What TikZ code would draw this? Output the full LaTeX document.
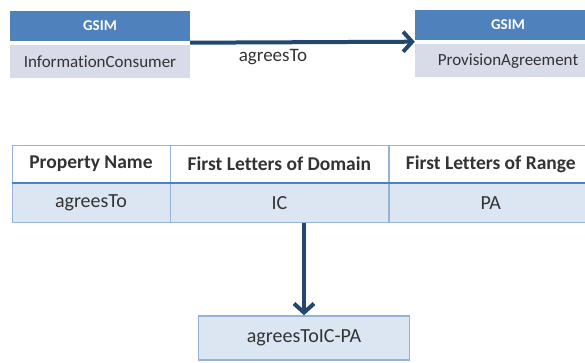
\documentclass[tikz,border=0pt]{standalone}
\usepackage{fontspec}
\setmainfont{Carlito}[Ligatures=NoCommon]
\usetikzlibrary{arrows.meta,positioning}
\definecolor{gsim}{HTML}{4F81BD}
\definecolor{gsimbody}{HTML}{D8DCE9}
\definecolor{navy}{HTML}{24476F}
\definecolor{rowfill}{HTML}{DCE6F2}
\definecolor{grid}{HTML}{95B3D7}
\definecolor{ink}{HTML}{333333}

\begin{document}
\begin{tikzpicture}[x=1pt,y=-1pt,
      head/.style={fill=gsim,text=white,font=\fontsize{15}{17}\selectfont\bfseries,minimum width=180pt,minimum height=30pt,inner sep=0pt},
      body/.style={fill=gsimbody,text=ink,font=\fontsize{17}{19}\selectfont,minimum width=180pt,minimum height=33pt,inner sep=0pt},
      hcell/.style={draw=grid,fill=white,text=ink,font=\fontsize{19.5}{22}\selectfont\bfseries,minimum height=38pt,inner sep=0pt},
      dcell/.style={draw=grid,fill=rowfill,text=ink,font=\fontsize{20}{22}\selectfont,minimum height=39pt,inner sep=0pt},
      res/.style={draw=grid,line width=1.5pt,fill=rowfill,text=ink,font=\fontsize{20}{22}\selectfont,minimum width=211pt,minimum height=44pt,inner sep=0pt},
      arr/.style={-{Straight Barb[length=9pt,width=20pt]},line width=4pt,navy}]
    \clip (0,0) rectangle (585,362);
    \fill[white] (0,0) rectangle (585,362);
    % GSIM classes
    \node[head] (lhead) at (100,26) {GSIM};
    \node[body,below=4pt of lhead] (lbody) {InformationConsumer};
    \node[head,minimum width=186pt] (rhead) at (508,25) {GSIM};
    \node[body,minimum width=186pt,below=4pt of rhead] (rbody) {ProvisionAgreement};
    \draw[arr] ([yshift=-1.5pt]lhead.south east) -- ([yshift=-1.5pt]rhead.south west);
    \node[text=ink,font=\fontsize{19}{21}\selectfont] (lbl) at (273,57) {agreesTo};
    % table
    \node[hcell,minimum width=158pt] (h1) at (91,164) {Property Name};
    \node[hcell,minimum width=218pt,right=0pt of h1] (h2) {First Letters of Domain};
    \node[hcell,minimum width=204pt,right=0pt of h2] (h3) {First Letters of Range};
    \node[dcell,minimum width=158pt,below=0pt of h1] (d1) {agreesTo};
    \node[dcell,minimum width=218pt,below=0pt of h2] (d2) {IC};
    \node[dcell,minimum width=204pt,below=0pt of h3] (d3) {PA};
    \draw[gsim,line width=2pt] (h1.south west) -- (h3.south east);
    % result
    \node[res] (out) at (304,338) {agreesToIC-PA};
    \draw[arr] (out.north |- d2.south) -- (out.north);
\end{tikzpicture}
\end{document}
